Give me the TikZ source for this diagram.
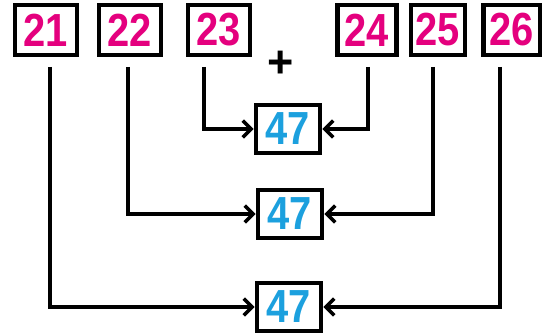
\documentclass[tikz,border=0pt]{standalone}
\usepackage{fontspec}
\setmainfont{Liberation Sans}
\newfontfamily\numfont[FakeStretch=0.86]{Liberation Sans}
\usetikzlibrary{arrows.meta,positioning}
\definecolor{numpink}{RGB}{228,0,126}
\definecolor{sumblue}{RGB}{28,160,222}

\begin{document}
\begin{tikzpicture}[
    x=0.025cm, y=-0.025cm,
    addend/.style={draw, line width=3.2pt, minimum width=1.55cm, minimum height=1.25cm, inner sep=0pt, font=\numfont\fontsize{33}{33}\selectfont\bfseries, text=numpink},
    total/.style={addend, minimum width=1.6cm, minimum height=1.2cm, text=sumblue},
    arr/.style={-{Straight Barb[length=6pt, width=12pt, line width=2.6pt]}, line width=2.6pt}
]
\useasboundingbox (0,0) rectangle (542,333);
\node[addend] (a21) at (46,30) {21};
\node[addend] (a22) at (130,30) {22};
\node[addend] (a23) at (219,30) {23};
\node[addend, minimum width=1.47cm] (a24) at (367,30) {24};
\node[addend, minimum width=1.35cm] (a25) at (438,30) {25};
\node[addend, minimum width=1.42cm] (a26) at (512,30) {26};
\node[font=\fontsize{32}{32}\selectfont\bfseries] (plus) at (281,64) {+};

\node[total] (s1) at (288,129) {47};
\node[total] (s2) at (290,214) {47};
\node[total] (s3) at (289,307) {47};

% line starts below the top boxes
\coordinate (b21) at (50,67);
\coordinate (b22) at (128,67);
\coordinate (b23) at (204,67);
\coordinate (b24) at (368,67);
\coordinate (b25) at (433,67);
\coordinate (b26) at (500,67);

\draw[arr] (b23) |- (s1);
\draw[arr] (b24) |- (s1);
\draw[arr] (b22) |- (s2);
\draw[arr] (b25) |- (s2);
\draw[arr] (b21) |- (s3);
\draw[arr] (b26) |- (s3);
\end{tikzpicture}
\end{document}
